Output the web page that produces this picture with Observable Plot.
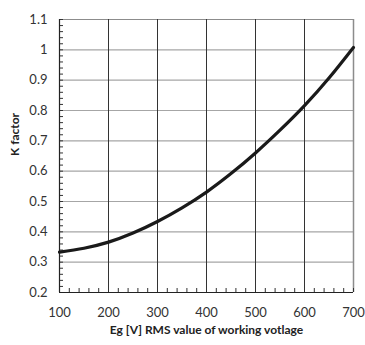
<!DOCTYPE html>
<html><head><meta charset="utf-8">
<script src="https://cdn.jsdelivr.net/npm/d3@7"></script>
<script src="https://cdn.jsdelivr.net/npm/@observablehq/plot@0.6"></script>
<style>body{margin:0;background:#fff;} svg{font-family:Lato, "Open Sans", sans-serif;}</style>
</head><body><div id="chart"></div>
<script>
const voltage = [100,150,200,250,300,350,400,450,500,550,600,650,700];
const kFactor = [0.333,0.346,0.366,0.396,0.434,0.479,0.531,0.592,0.660,0.735,0.816,0.907,1.008];
const xTicks = [100,200,300,400,500,600,700];
const yTicks = [0.2,0.3,0.4,0.5,0.6,0.7,0.8,0.9,1,1.1];
const xMinor = d3.range(100, 701, 20);
const yMinor = d3.range(0.2, 1.1001, 0.02).map(v => +v.toFixed(2));
const data = voltage.map((v,i) => ({v, k: kFactor[i]}));

const W = 365, H = 345, mL = 59, mR = 12, mT = 19, mB = 53;
const plotW = W - mL - mR, plotH = H - mT - mB, tick = 4;
const xDom = [100, 700], yDom = [0.2, 1.1];
const xTickLen = (xDom[1] - xDom[0]) * tick / plotW;
const yTickLen = (yDom[1] - yDom[0]) * tick / plotH;

const chart = Plot.plot({
  width: W, height: H,
  marginLeft: mL, marginRight: mR, marginTop: mT, marginBottom: mB,
  style: {fontFamily: "Lato, 'Open Sans', sans-serif", fontSize: "12px", color: "#222"},
  x: {domain: xDom},
  y: {domain: yDom},
  marks: [
    Plot.ruleY(yTicks.filter(d => d > 0.2 && d < 1.1), {stroke: "#a6a6a6", strokeWidth: 1.2}),
    Plot.ruleY([1.1], {stroke: "#8c8c8c", strokeWidth: 1.2}),
    Plot.ruleX(xTicks.filter(d => d > 100 && d < 700), {stroke: "#333", strokeWidth: 1}),
    Plot.ruleX([700], {stroke: "#8c8c8c", strokeWidth: 1.5}),
    Plot.ruleY(yMinor, {y: d => d, x1: () => xDom[0], x2: () => xDom[0] + xTickLen, stroke: "#333", strokeWidth: 1}),
    Plot.ruleX(xMinor, {x: d => d, y1: () => yDom[0], y2: () => yDom[0] + yTickLen, stroke: "#333", strokeWidth: 1}),
    Plot.axisY({ticks: yTicks, tickSize: 0, tickPadding: 12, tickFormat: d => String(+d.toFixed(1)), label: null, fontSize: 13, fill: "#333"}),
    Plot.axisX({ticks: xTicks, tickSize: 0, tickPadding: 15, label: null, fontSize: 13, fill: "#333"}),
    Plot.ruleX([100], {stroke: "#222", strokeWidth: 1.2}),
    Plot.ruleY([0.2], {stroke: "#222", strokeWidth: 1.2}),
    Plot.line(data, {x: "v", y: "k", curve: "natural", stroke: "#1a1a1a", strokeWidth: 3.2}),
    Plot.text(["K factor"], {frameAnchor: "left", dx: -44, rotate: -90, fontWeight: "bold", fontSize: 12, fill: "#222"}),
    Plot.text(["Eg [V] RMS value of working votlage"], {frameAnchor: "bottom", dy: 41, fontWeight: "bold", fontSize: 12, fill: "#222"})
  ]
});
document.getElementById("chart").append(chart);
</script></body></html>
